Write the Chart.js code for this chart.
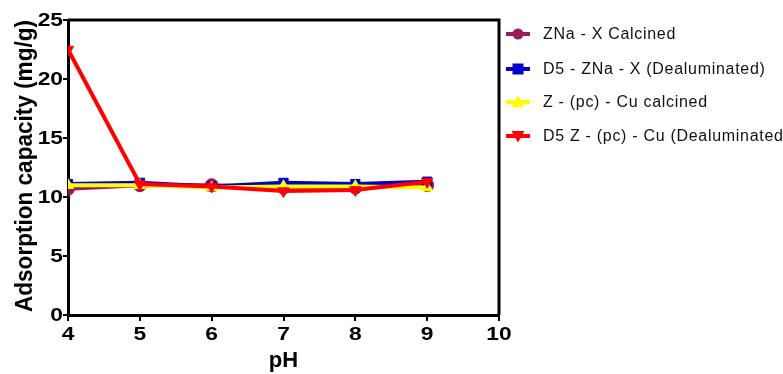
<!DOCTYPE html>
<html>
<head>
<meta charset="utf-8">
<script src="https://cdn.jsdelivr.net/npm/chart.js@4"></script>
<style>
  html,body{margin:0;padding:0;background:#fff;}
  #wrap{position:relative;width:783px;height:374px;overflow:hidden;}
  #legend{position:absolute;left:505px;top:20px;font-family:Arial,"Liberation Sans",sans-serif;font-size:16px;color:#111;letter-spacing:0.7px;}
  .item{position:absolute;left:0;height:20px;display:flex;align-items:center;white-space:nowrap;}
  .item svg{margin-right:12px;}
  #ytitle{position:absolute;left:0;top:0;}
</style>
</head>
<body>
<div id="wrap">
<canvas id="c" width="783" height="374"></canvas>
<svg id="ytitle" width="50" height="374"><text id="yt" transform="translate(31.5,166) rotate(-90)" text-anchor="middle" font-family="Arial, 'Liberation Sans', sans-serif" font-size="24" font-weight="bold" fill="#000" textLength="292" lengthAdjust="spacingAndGlyphs"></text></svg>
<div id="legend"></div>
</div>
<script>
const pH = [4, 5, 6, 7, 8, 9];
const seriesNames = ["ZNa - X Calcined", "D5 - ZNa - X (Dealuminated)", "Z - (pc) - Cu calcined", "D5 Z - (pc) - Cu (Dealuminated"];
const znaCalcined = [10.7, 11.0, 11.0, 10.8, 10.8, 11.0];
const d5Zna = [11.1, 11.2, 10.9, 11.2, 11.1, 11.3];
const zpcCu = [11.0, 11.0, 10.8, 10.9, 10.9, 10.8];
const d5ZpcCu = [22.5, 11.1, 10.9, 10.5, 10.6, 11.3];
const xTicks = [4, 5, 6, 7, 8, 9, 10];
const yTicks = [0, 5, 10, 15, 20, 25];
const xTitle = 'pH';
const yTitle = 'Adsorption capacity (mg/g)';

document.getElementById('yt').textContent = yTitle;

const colors = ["#9B1B5A", "#0000CC", "#FFFF00", "#FF0000"];
const styles = ["circle", "rect", "triangle", "triangle"];
const rotations = [0, 0, 0, 180];
const values = [znaCalcined, d5Zna, zpcCu, d5ZpcCu];

const datasets = values.map((v, i) => ({
  label: seriesNames[i],
  data: v.map((y, k) => ({x: pH[k], y: y})),
  borderColor: colors[i],
  backgroundColor: colors[i],
  borderWidth: 4,
  pointStyle: styles[i],
  rotation: rotations[i],
  pointRadius: 6.5,
  pointBorderWidth: 1,
  order: 4 - i,
  tension: 0
}));

const frame = {
  id: 'frame',
  afterDraw(chart) {
    const {ctx, chartArea: a} = chart;
    ctx.save();
    ctx.strokeStyle = '#000';
    ctx.lineWidth = 3;
    ctx.beginPath();
    ctx.moveTo(a.left, a.top);
    ctx.lineTo(a.right, a.top);
    ctx.lineTo(a.right, a.bottom);
    ctx.stroke();
    // stretched tick labels
    ctx.fillStyle = '#000';
    ctx.font = 'bold 19px Arial, "Liberation Sans", sans-serif';
    const xs = chart.scales.x, ys = chart.scales.y;
    ctx.textAlign = 'center';
    ctx.textBaseline = 'middle';
    xTicks.forEach(v => {
      ctx.save();
      ctx.translate(xs.getPixelForValue(v), 335);
      ctx.scale(1.2, 1);
      ctx.fillText(String(v), 0, 0);
      ctx.restore();
    });
    ctx.textAlign = 'right';
    yTicks.forEach(v => {
      ctx.save();
      ctx.translate(63, ys.getPixelForValue(v) + 1);
      ctx.scale(1.2, 1);
      ctx.fillText(String(v), 0, 0);
      ctx.restore();
    });
    ctx.restore();
  }
};

new Chart(document.getElementById('c'), {
  type: 'line',
  data: {datasets},
  options: {
    responsive: false,
    animation: false,
    layout: {padding: {left: 0, right: 284, top: 20, bottom: 0}},
    plugins: {legend: {display: false}, tooltip: {enabled: false}},
    scales: {
      x: {
        type: 'linear', min: 4, max: 10,
        afterBuildTicks: s => { s.ticks = xTicks.map(v => ({value: v})); },
        afterFit: s => { s.height = 59; },
        ticks: {font: {size: 18, weight: 'bold'}, color: 'rgba(0,0,0,0)', padding: 0},
        grid: {drawOnChartArea: false, drawTicks: true, tickLength: 6, color: '#000', lineWidth: 2},
        border: {display: true, color: '#000', width: 3},
        title: {display: true, text: xTitle, color: '#000', padding: {top: 0, bottom: 0},
                font: {family: 'Arial, "Liberation Sans", sans-serif', size: 22, weight: 'bold'}}
      },
      y: {
        type: 'linear', min: 0, max: 25,
        afterBuildTicks: s => { s.ticks = yTicks.map(v => ({value: v})); },
        afterFit: s => { s.width = 68; },
        ticks: {font: {size: 18, weight: 'bold'}, color: 'rgba(0,0,0,0)', padding: 1},
        grid: {drawOnChartArea: false, drawTicks: true, tickLength: 5, color: '#000', lineWidth: 2},
        border: {display: true, color: '#000', width: 3}
      }
    }
  },
  plugins: [frame]
});

// HTML legend
const legend = document.getElementById('legend');
const tops = [4, 39, 72, 106];
seriesNames.forEach((name, i) => {
  const d = document.createElement('div');
  d.className = 'item';
  d.style.top = tops[i] + 'px';
  let marker = '';
  if (styles[i] === 'circle') marker = `<circle cx="13" cy="10" r="5.5" fill="${colors[i]}"/>`;
  else if (styles[i] === 'rect') marker = `<rect x="7.5" y="4.5" width="11" height="11" fill="${colors[i]}"/>`;
  else if (rotations[i] === 0) marker = `<polygon points="13,3.5 19.5,15 6.5,15" fill="${colors[i]}"/>`;
  else marker = `<polygon points="13,16.5 19.5,5 6.5,5" fill="${colors[i]}"/>`;
  d.innerHTML = `<svg width="26" height="20"><line x1="1" y1="10" x2="25" y2="10" stroke="${colors[i]}" stroke-width="4"/>${marker}</svg><span>${name}</span>`;
  legend.appendChild(d);
});
</script>
</body>
</html>
